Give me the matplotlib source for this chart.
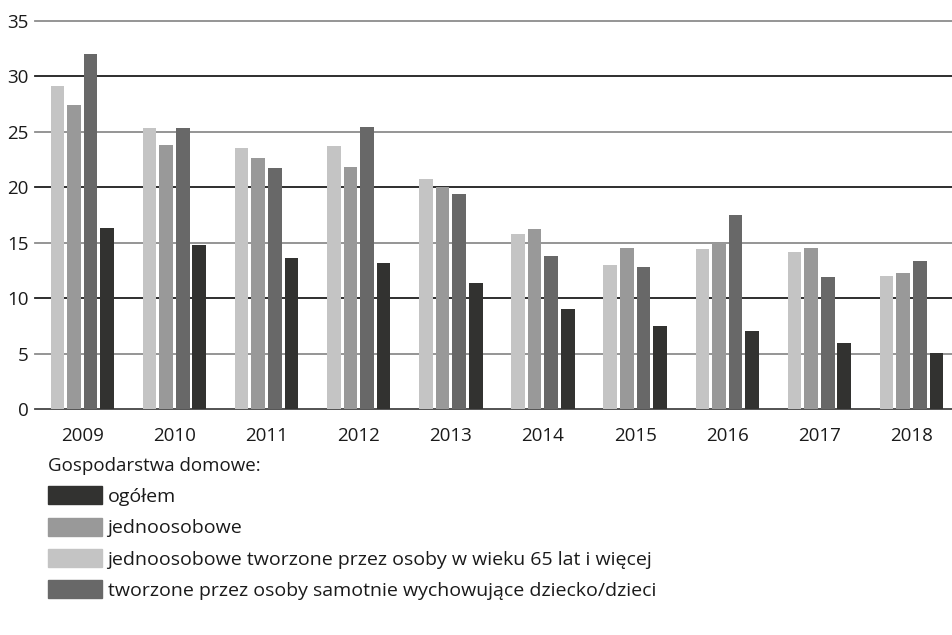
import numpy as np
import matplotlib.pyplot as plt
from matplotlib.patches import Patch

plt.rcParams['font.family'] = ['Open Sans', 'DejaVu Sans']

lata = ["2009", "2010", "2011", "2012", "2013", "2014", "2015", "2016", "2017", "2018"]
ogolem = [16.3, 14.8, 13.6, 13.2, 11.4, 9.0, 7.5, 7.0, 5.95, 5.05]
jednoosobowe = [27.4, 23.8, 22.6, 21.8, 20.0, 16.2, 14.5, 15.0, 14.5, 12.3]
jedn_65 = [29.1, 25.3, 23.5, 23.7, 20.7, 15.8, 13.0, 14.4, 14.2, 12.0]
samotni = [32.0, 25.3, 21.7, 25.4, 19.4, 13.8, 12.8, 17.5, 11.9, 13.35]

etykiety = ["ogółem", "jednoosobowe",
            "jednoosobowe tworzone przez osoby w wieku 65 lat i więcej",
            "tworzone przez osoby samotnie wychowujące dziecko/dzieci"]
KOL_OG, KOL_JED, KOL_65, KOL_SAM = "#323230", "#999999", "#c4c4c4", "#686868"

fig = plt.figure(figsize=(9.53, 6.35), dpi=100)
ax = fig.add_axes([0.037, 0.356, 0.963, 0.611])

x = np.arange(len(lata))
pitch, w = 0.18, 0.148
serie = [(jedn_65, KOL_65), (jednoosobowe, KOL_JED), (samotni, KOL_SAM), (ogolem, KOL_OG)]
for k, (vals, col) in enumerate(serie):
    ax.bar(x + (k - 1.5) * pitch, vals, w, color=col, zorder=3)

# linie siatki: naprzemiennie szare i ciemne
for v in range(0, 40, 5):
    col = "#8c8c8c" if v % 10 == 5 else "#1e1e1e"
    if v == 0:
        col = "#444444"
    ax.axhline(v, color=col, lw=1.3, zorder=1, clip_on=False)

ax.set_xlim(-0.51, 9.45)
ax.set_ylim(0, 35)
ax.set_yticks(range(0, 40, 5))
ax.set_xticks(x)
ax.set_xticklabels(lata)
ax.tick_params(axis='both', length=0, labelsize=13.5, colors="#1a1a1a")
ax.tick_params(axis='x', pad=13)
ax.tick_params(axis='y', pad=5)
for s in ax.spines.values():
    s.set_visible(False)

uchwyty = [Patch(color=KOL_OG), Patch(color=KOL_JED), Patch(color=KOL_65), Patch(color=KOL_SAM)]
leg = fig.legend(uchwyty, etykiety, loc="upper left", bbox_to_anchor=(0.05, 0.281),
                 frameon=False, fontsize=14, title="Gospodarstwa domowe:",
                 title_fontsize=13.5, alignment="left", handlelength=2.8,
                 handleheight=1.05, labelspacing=0.6, handletextpad=0.28,
                 borderpad=0, borderaxespad=0)
for t in leg.get_texts():
    t.set_color("#1a1a1a")
leg.get_title().set_color("#1a1a1a")

fig.savefig("out.png", dpi=100)
